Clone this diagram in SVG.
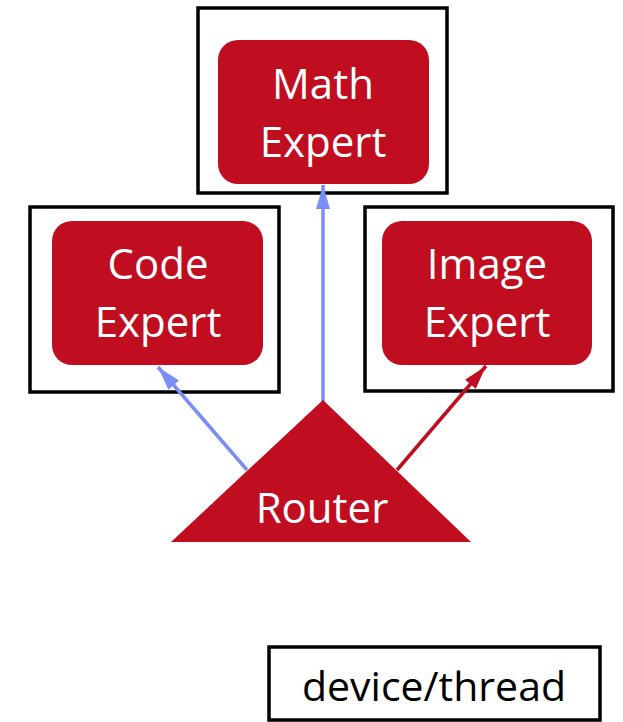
<svg xmlns="http://www.w3.org/2000/svg" width="623" height="722" viewBox="0 0 623 722">
  <style>
    .frame { fill: #ffffff; stroke: #000000; stroke-width: 3.5; }
    .expert { fill: #C00D1F; }
    .label { font-family: "Open Sans", "Liberation Sans", sans-serif; font-size: 42px; text-anchor: middle; }
    .legend-text { font-size: 41px; }
    .light { fill: #ffffff; }
    .dark { fill: #000000; }
    .blue { stroke: #7B8DF7; stroke-width: 3.5; fill: none; }
    .red { stroke: #C00D1F; stroke-width: 3.5; fill: none; }
  </style>
  <defs>
    <marker id="headBlue" markerUnits="userSpaceOnUse" markerWidth="26" markerHeight="14" refX="24" refY="7" orient="auto" viewBox="0 0 26 14">
      <path d="M0,0 L24,7 L0,14 z" fill="#7B8DF7"/>
    </marker>
    <marker id="headRed" markerUnits="userSpaceOnUse" markerWidth="26" markerHeight="14" refX="24" refY="7" orient="auto" viewBox="0 0 26 14">
      <path d="M0,0 L24,7 L0,14 z" fill="#C00D1F"/>
    </marker>
  </defs>

  <!-- Math expert -->
  <g id="math-expert">
    <rect class="frame" x="198" y="8" width="249" height="185"/>
    <rect class="expert" x="218" y="40" width="211" height="144" rx="20"/>
    <text class="label light" x="323" y="99">Math</text>
    <text class="label light" x="323" y="157">Expert</text>
  </g>

  <!-- Code expert -->
  <g id="code-expert">
    <rect class="frame" x="30" y="207" width="249" height="185"/>
    <rect class="expert" x="52" y="221" width="211" height="144" rx="20"/>
    <text class="label light" x="158" y="279">Code</text>
    <text class="label light" x="158" y="337">Expert</text>
  </g>

  <!-- Image expert -->
  <g id="image-expert">
    <rect class="frame" x="365" y="207" width="248" height="184"/>
    <rect class="expert" x="382" y="221" width="210" height="144" rx="20"/>
    <text class="label light" x="487" y="279">Image</text>
    <text class="label light" x="487" y="337">Expert</text>
  </g>

  <!-- Connectors from the router -->
  <g id="connectors">
    <line class="blue" x1="323" y1="402" x2="323" y2="185" marker-end="url(#headBlue)"/>
    <line class="blue" x1="247" y1="470" x2="158" y2="367" marker-end="url(#headBlue)"/>
    <line class="red" x1="397" y1="470" x2="486" y2="366" marker-end="url(#headRed)"/>
  </g>

  <!-- Router -->
  <g id="router">
    <polygon class="expert" points="323,400 471,542 171,542"/>
    <text class="label light" x="322" y="523">Router</text>
  </g>

  <!-- Legend -->
  <g id="legend">
    <rect class="frame" x="269" y="647" width="331" height="73"/>
    <text class="label legend-text dark" x="434" y="701">device/thread</text>
  </g>
</svg>
